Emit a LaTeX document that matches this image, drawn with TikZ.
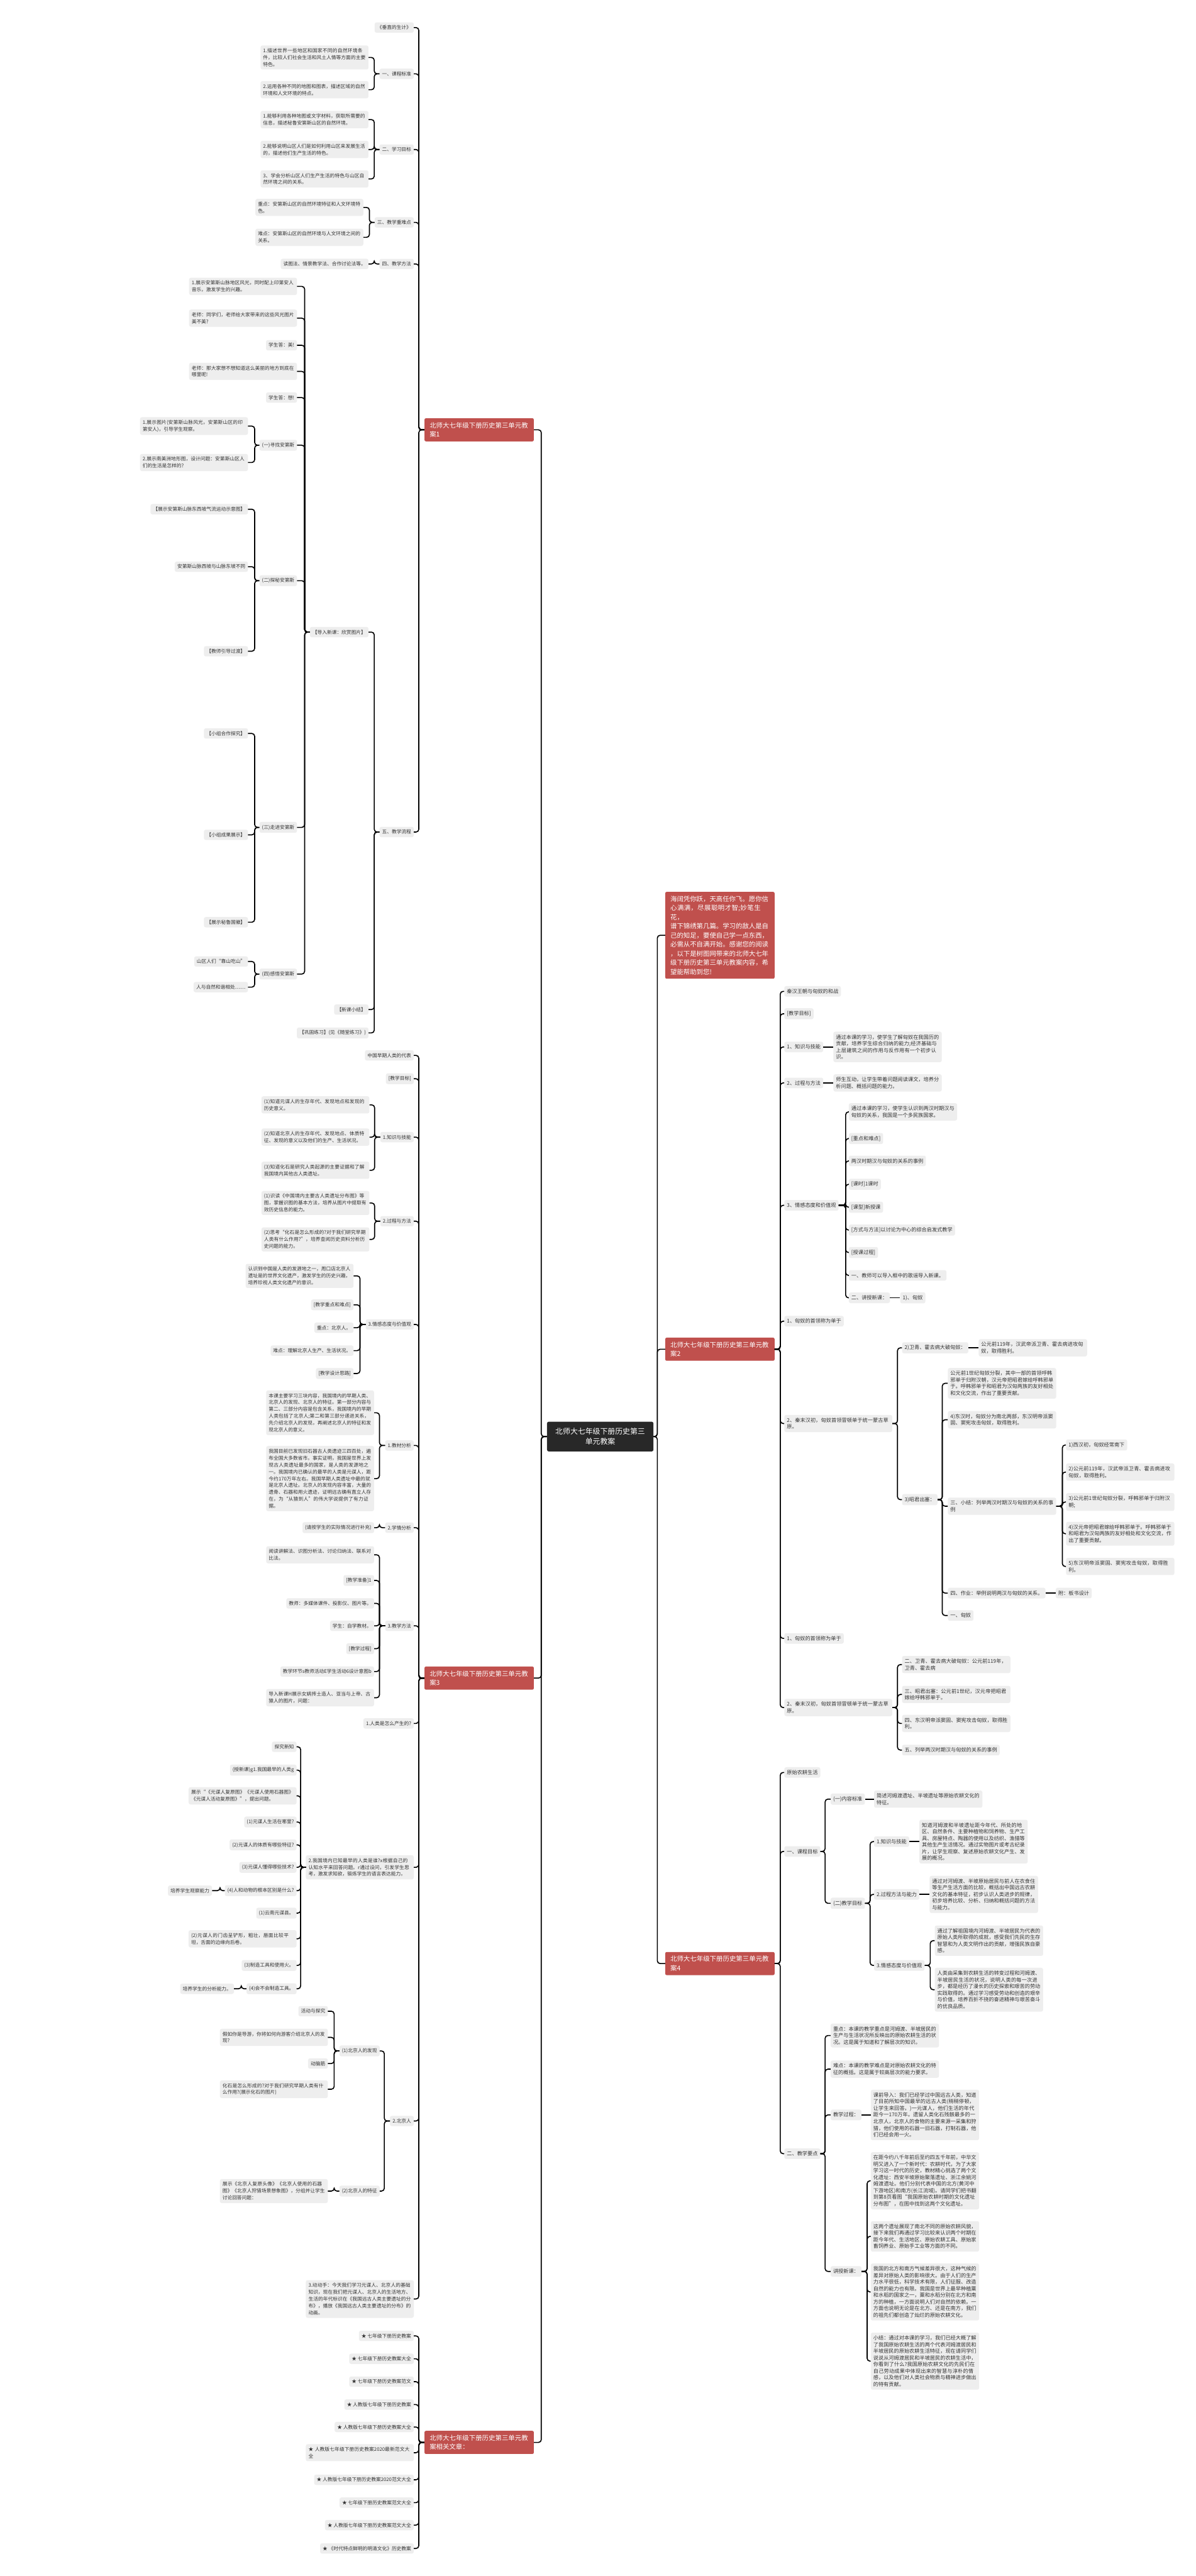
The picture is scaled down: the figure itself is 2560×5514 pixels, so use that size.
\documentclass[tikz,border=0pt]{standalone}
\usepackage{fontspec}
\setmainfont{Noto Sans CJK SC}
\XeTeXlinebreaklocale "zh"
\XeTeXlinebreakskip=0pt plus 1pt
\definecolor{leaf}{RGB}{238,238,238}
\definecolor{txt}{RGB}{51,51,51}
\definecolor{brred}{RGB}{192,80,77}
\definecolor{ctrc}{RGB}{40,40,40}
\tikzset{
 base/.style={fill=leaf,text=txt,rounded corners=4pt,inner xsep=5.5pt,inner ysep=6.2pt},
 L/.style={base,anchor=east,font=\fontsize{10.4pt}{14.7pt}\selectfont},
 R/.style={base,anchor=west,font=\fontsize{11pt}{14.2pt}\selectfont},
 W/.style={text width=#1,align=left},
 W/.default=220pt,
 redbox/.style={fill=brred,text=white,rounded corners=3pt,font=\fontsize{14pt}{19.5pt}\selectfont,inner xsep=11pt,inner ysep=8.5pt,text width=212pt,align=left},
 conn/.style={line width=2.2pt,rounded corners=6pt},
}
\newcommand\lk[3][10]{\draw[conn] (#2.west) -- ++(-#1,0) |- (#3.east);}
\newcommand\rk[3][10]{\draw[conn] (#2.east) -- ++(#1,0) |- (#3.west);}
\begin{document}
\begin{tikzpicture}[x=1pt,y=-1pt]
\fill[white] (0,0) rectangle (2560,5514);
\useasboundingbox (0,0) rectangle (2560,5514);
% centre
\node[fill=ctrc,text=white,rounded corners=4pt,font=\fontsize{16pt}{21pt}\selectfont,align=center,inner xsep=18pt,inner ysep=14pt] (ctr) at (1285,3075) {北师大七年级下册历史第三\\单元教案};
% main branches
\node[redbox,anchor=east] (b1) at (1143,920) {北师大七年级下册历史第三单元教案1};
\node[redbox,anchor=east] (b3) at (1143,3592) {北师大七年级下册历史第三单元教案3};
\node[redbox,anchor=east] (b5) at (1143,5228) {北师大七年级下册历史第三单元教案相关文章：};
\node[redbox,anchor=west] (desc) at (1424,2002) {海阔凭你跃，天高任你飞。愿你信\\心满满，尽展聪明才智;妙笔生花，\\谱下锦绣第几篇。学习的敌人是自\\己的知足，要使自己学一点东西，\\必需从不自满开始。感谢您的阅读\\，以下是树图网带来的北师大七年\\级下册历史第三单元教案内容，希\\望能帮助到您!};
\node[redbox,anchor=west] (b2) at (1424,2888) {北师大七年级下册历史第三单元教案2};
\node[redbox,anchor=west] (b4) at (1424,4203) {北师大七年级下册历史第三单元教案4};
\foreach \c in {b1,b3,b5} \lk[12]{ctr}{\c};
\foreach \c in {desc,b2,b4} \rk[8]{ctr}{\c};

% ===== branch 1 =====
\node[L] (n11) at (886,59) {《垂直的生计》};
\node[L] (n12) at (886,158) {一、课程标准};
\node[L] (n13) at (886,320) {二、学习目标};
\node[L] (n14) at (886,476) {三、教学重难点};
\node[L] (n15) at (886,565) {四、教学方法};
\node[L] (n16) at (886,1781) {五、教学流程};
\foreach \c in {n11,n12,n13,n14,n15,n16} \lk[12]{b1}{\c};
\node[L,W] (n121) at (789,123) {1.描述世界一些地区和国家不同的自然环境条件，比较人们社会生活和风土人情等方面的主要特色。};
\node[L,W] (n122) at (789,192) {2.运用各种不同的地图和图表，描述区域的自然环境和人文环境的特点。};
\foreach \c in {n121,n122} \lk[11]{n12}{\c};
\node[L,W] (n131) at (789,256) {1.能够利用各种地图或文字材料，获取所需要的信息，描述秘鲁安第斯山区的自然环境。};
\node[L,W] (n132) at (789,320) {2.能够说明山区人们是如何利用山区来发展生活的，描述他们生产生活的特色。};
\node[L,W] (n133) at (789,383) {3、学会分析山区人们生产生活的特色与山区自然环境之间的关系。};
\foreach \c in {n131,n132,n133} \lk[11]{n13}{\c};
\node[L,W] (n141) at (778,444) {重点：安第斯山区的自然环境特征和人文环境特色。};
\node[L,W] (n142) at (778,508) {难点：安第斯山区的自然环境与人文环境之间的关系。};
\foreach \c in {n141,n142} \lk[11]{n14}{\c};
\node[L] (n151) at (789,565) {读图法、情景教学法、合作讨论法等。};
\lk[11]{n15}{n151}
\node[L] (n161) at (789,1353) {【导入新课：欣赏图片】};
\node[L] (n162) at (789,2161) {【新课小结】};
\node[L] (n163) at (789,2211) {【巩固练习】(见《随堂练习》)};
\foreach \c in {n161,n162,n163} \lk[11]{n16}{\c};
\node[L,W] (a1) at (636,613) {1.展示安第斯山脉地区风光，同时配上印第安人音乐，激发学生的兴趣。};
\node[L,W] (a2) at (636,681) {老师：同学们，老师给大家带来的这些风光图片美不美?};
\node[L] (a3) at (636,739) {学生答：美!};
\node[L,W] (a4) at (636,795) {老师：那大家想不想知道这么美丽的地方到底在哪里呢!};
\node[L] (a5) at (636,851) {学生答：想!};
\node[L] (a6) at (636,953) {(一)寻找安第斯};
\node[L] (a7) at (636,1243) {(二)探秘安第斯};
\node[L] (a8) at (636,1771) {(三)走进安第斯};
\node[L] (a9) at (636,2085) {(四)感悟安第斯};
\foreach \c in {a1,a2,a3,a4,a5,a6,a7,a8,a9} \lk[11]{n161}{\c};
\node[L,W] (a61) at (531,912) {1.展示图片(安第斯山脉风光，安第斯山区的印第安人)，引导学生观察。};
\node[L,W] (a62) at (531,990) {2.展示南美洲地形图，设计问题：安第斯山区人们的生活是怎样的?};
\foreach \c in {a61,a62} \lk[10]{a6}{\c};
\node[L] (a71) at (531,1090) {【展示安第斯山脉东西坡气流运动示意图】};
\node[L] (a72) at (531,1213) {安第斯山脉西坡与山脉东坡不同};
\node[L] (a73) at (531,1394) {【教师引导过渡】};
\foreach \c in {a71,a72,a73} \lk[10]{a7}{\c};
\node[L] (a81) at (531,1570) {【小组合作探究】};
\node[L] (a82) at (531,1787) {【小组成果展示】};
\node[L] (a83) at (531,1974) {【展示秘鲁国徽】};
\foreach \c in {a81,a82,a83} \lk[10]{a8}{\c};
\node[L] (a91) at (531,2058) {山区人们“靠山吃山”};
\node[L] (a92) at (531,2113) {人与自然和谐相处……};
\foreach \c in {a91,a92} \lk[10]{a9}{\c};

% ===== branch 3 =====
\node[L] (t1) at (886,2259) {中国早期人类的代表};
\node[L] (t2) at (886,2309) {[教学目标]};
\node[L] (t3) at (886,2434) {1.知识与技能};
\node[L] (t4) at (886,2614) {2.过程与方法};
\node[L] (t5) at (886,2835) {3.情感态度与价值观};
\node[L] (t6) at (886,3094) {1.教材分析};
\node[L] (t7) at (886,3270) {2.学情分析};
\node[L] (t8) at (886,3480) {3.教学方法};
\node[L] (t9) at (886,3689) {1.人类是怎么产生的?};
\node[L,W] (t10) at (886,3997) {2.我国境内已知最早的人类是谁?x根据自己的认知水平来回答问题。r通过设问，引发学生思考，激发求知欲，锻炼学生的语言表达能力。};
\node[L] (t11) at (886,4540) {2.北京人};
\node[L,W] (t12) at (886,4921) {3.动动手：今天我们学习元谋人、北京人的基础知识，现在我们把元谋人、北京人的生活地方、生活的年代标识在《我国远古人类主要遗址的分布》，播放《我国远古人类主要遗址的分布》的动画。};
\foreach \c in {t1,t2,t3,t4,t5,t6,t7,t8,t9,t10,t11,t12} \lk[12]{b3}{\c};
\node[L,W] (t31) at (791,2365) {(1)知道元谋人的生存年代、发现地点和发现的历史意义。};
\node[L,W] (t32) at (791,2434) {(2)知道北京人的生存年代、发现地点、体质特征、发现的意义以及他们的生产、生活状况。};
\node[L,W] (t33) at (791,2505) {(3)知道化石是研究人类起源的主要证据和了解我国境内其他古人类遗址。};
\foreach \c in {t31,t32,t33} \lk[12]{t3}{\c};
\node[L,W] (t41) at (791,2575) {(1)识读《中国境内主要古人类遗址分布图》等图，掌握识图的基本方法，培养从图片中提取有效历史信息的能力。};
\node[L,W] (t42) at (791,2653) {(2)思考“化石是怎么形成的?对于我们研究早期人类有什么作用?”，培养查阅历史资料分析历史问题的能力。};
\foreach \c in {t41,t42} \lk[12]{t4}{\c};
\node[L,W] (t51) at (757,2731) {认识到中国是人类的发源地之一，周口店北京人遗址是的世界文化遗产，激发学生的历史兴趣，培养珍视人类文化遗产的意识。};
\node[L] (t52) at (757,2793) {[教学重点和难点]};
\node[L] (t53) at (757,2842) {重点：北京人。};
\node[L] (t54) at (757,2891) {难点：理解北京人生产、生活状况。};
\node[L] (t55) at (757,2940) {[教学设计思路]};
\foreach \c in {t51,t52,t53,t54,t55} \lk[12]{t5}{\c};
\node[L,W] (t61) at (801,3024) {本课主要学习三块内容，我国境内的早期人类、北京人的发现、北京人的特征。第一部分内容与第二、三部分内容是包含关系，我国境内的早期人类包括了北京人;第二和第三部分递进关系，先介绍北京人的发现，再阐述北京人的特征和发现北京人的意义。};
\node[L,W] (t62) at (801,3165) {我国目前已发现旧石器古人类遗迹三四百处，遍布全国大多数省市。事实证明，我国是世界上发现古人类遗址最多的国家，是人类的发源地之一。我国境内已确认的最早的人类是元谋人，距今约170万年左右。我国早期人类遗址中最的就是北京人遗址。北京人的发现内容丰富，大量的遗骨、石器和用火遗迹，证明远古确有直立人存在，为“从猿到人”的伟大学说提供了有力证据。};
\foreach \c in {t61,t62} \lk[12]{t6}{\c};
\node[L] (t71) at (801,3270) {(请按学生的实际情况进行补充)};
\lk[12]{t7}{t71}
\node[L,W] (t81) at (801,3328) {阅读讲解法、识图分析法、讨论归纳法、联系对比法。};
\node[L] (t82) at (801,3383) {[教学准备]1};
\node[L] (t83) at (801,3432) {教师：多媒体课件、投影仪、图片等。};
\node[L] (t84) at (801,3480) {学生：自学教材。};
\node[L] (t85) at (801,3529) {[教学过程]};
\node[L] (t86) at (801,3578) {教学环节s教师活动E学生活动6设计意图b};
\node[L,W] (t87) at (801,3634) {导入新课H展示女娲抟土造人、亚当与上帝、古猿人的图片，问题：};
\foreach \c in {t81,t82,t83,t84,t85,t86,t87} \lk[12]{t8}{\c};
\node[L] (u1) at (635,3739) {探究新知};
\node[L] (u2) at (635,3789) {(授新课)g1.我国最早的人类g};
\node[L,W] (u3) at (635,3844) {展示“《元谋人复原图》《元谋人使用石器图》《元谋人活动复原图》”，提出问题。};
\node[L] (u4) at (635,3900) {(1)元谋人生活在哪里?};
\node[L] (u5) at (635,3949) {(2)元谋人的体质有哪些特征?};
\node[L] (u6) at (635,3997) {(3)元谋人懂得哪些技术?};
\node[L] (u7) at (635,4047) {(4)人和动物的根本区别是什么?};
\node[L] (u8) at (635,4095) {(1)云南元谋县。};
\node[L,W] (u9) at (635,4150) {(2)元谋人的门齿呈铲形，粗壮，唇面比较平坦，舌面的边缘向后卷。};
\node[L] (u10) at (635,4207) {(3)制造工具和使用火。};
\node[L] (u11) at (635,4257) {(4)会不会制造工具。};
\foreach \c in {u1,u2,u3,u4,u5,u6,u7,u8,u9,u10,u11} \lk[11]{t10}{\c};
\node[L] (u7a) at (454,4047) {培养学生观察能力};
\lk[10]{u7}{u7a}
\node[L] (u11a) at (501,4257) {培养学生的分析能力。};
\lk[11]{u11}{u11a}
\node[L] (t111) at (813,4390) {(1)北京人的发现};
\node[L] (t112) at (813,4690) {(2)北京人的特征};
\foreach \c in {t111,t112} \lk[12]{t11}{\c};
\node[L] (v1) at (702,4305) {活动与探究};
\node[L,W] (v2) at (702,4361) {假如你是导游，你将如何向游客介绍北京人的发现?};
\node[L] (v3) at (702,4417) {动脑筋};
\node[L,W] (v4) at (702,4472) {化石是怎么形成的?对于我们研究早期人类有什么作用?(展示化石的图片)};
\foreach \c in {v1,v2,v3,v4} \lk[11]{t111}{\c};
\node[L,W] (v5) at (702,4690) {展示《北京人复原头像》《北京人使用的石器图》《北京人狩猎场景想象图》，分组并让学生讨论回答问题：};
\lk[11]{t112}{v5}

% ===== branch 5 =====
\node[L] (w1) at (886,5000) {★ 七年级下册历史教案};
\node[L] (w2) at (886,5049) {★ 七年级下册历史教案大全};
\node[L] (w3) at (886,5098) {★ 七年级下册历史教案范文};
\node[L] (w4) at (886,5147) {★ 人教版七年级下册历史教案};
\node[L] (w5) at (886,5195) {★ 人教版七年级下册历史教案大全};
\node[L,W] (w6) at (886,5250) {★ 人教版七年级下册历史教案2020最新范文大全};
\node[L] (w7) at (886,5308) {★ 人教版七年级下册历史教案2020范文大全};
\node[L] (w8) at (886,5357) {★ 七年级下册历史教案范文大全};
\node[L] (w9) at (886,5405) {★ 人教版七年级下册历史教案范文大全};
\node[L] (w10) at (886,5455) {★ 《时代特点鲜明的明清文化》历史教案};
\foreach \c in {w1,w2,w3,w4,w5,w6,w7,w8,w9,w10} \lk[12]{b5}{\c};

% ===== branch 2 =====
\node[R] (r1) at (1679,2122) {秦汉王朝与匈奴的和战};
\node[R] (r2) at (1679,2170) {[教学目标]};
\node[R] (r3) at (1679,2241) {1、知识与技能};
\node[R] (r4) at (1679,2318) {2、过程与方法};
\node[R] (r5) at (1679,2580) {3、情感态度和价值观};
\node[R] (r6) at (1679,2828) {1、匈奴的首领称为单于};
\node[R,W] (r7) at (1679,3047) {2、秦末汉初，匈奴首领冒顿单于统一蒙古草原。};
\node[R] (r8) at (1679,3507) {1、匈奴的首领称为单于};
\node[R,W] (r9) at (1679,3655) {2、秦末汉初，匈奴首领冒顿单于统一蒙古草原。};
\foreach \c in {r1,r2,r3,r4,r5,r6,r7,r8,r9} \rk[12]{b2}{\c};
\node[R,W=221pt] (r3a) at (1784,2241) {通过本课的学习，使学生了解匈奴在我国历的贡献，培养学生综合归纳的能力;经济基础与上层建筑之间的作用与反作用有一个初步认识。};
\draw[conn] (r3) -- (r3a);
\node[R,W=221pt] (r4a) at (1784,2318) {师生互动，让学生带着问题阅读课文，培养分析问题、概括问题的能力。};
\draw[conn] (r4) -- (r4a);
\node[R,W=221pt] (r51) at (1817,2380) {通过本课的学习，使学生认识到两汉时期汉与匈奴的关系，我国是一个多民族国家。};
\node[R] (r52) at (1817,2437) {[重点和难点]};
\node[R] (r53) at (1817,2485) {两汉时期汉与匈奴的关系的事例};
\node[R] (r54) at (1817,2535) {[课时]1课时};
\node[R] (r55) at (1817,2584) {[课型]新授课};
\node[R] (r56) at (1817,2633) {[方式与方法]以讨论为中心的综合启发式教学};
\node[R] (r57) at (1817,2681) {[授课过程]};
\node[R] (r58) at (1817,2730) {一、教师可以导入框中的歌谣导入新课。};
\node[R] (r59) at (1817,2778) {二、讲授新课：};
\foreach \c in {r51,r52,r53,r54,r55,r56,r57,r58,r59} \rk[15]{r5}{\c};
\node[R] (r59a) at (1927,2778) {1)、匈奴};
\draw[conn] (r59) -- (r59a);
\node[R] (r71) at (1931,2885) {2)卫青、霍去病大破匈奴：};
\node[R] (r72) at (1931,3210) {3)昭君出塞：};
\foreach \c in {r71,r72} \rk[11]{r7}{\c};
\node[R,W=221pt] (r71a) at (2095,2885) {公元前119年，汉武帝派卫青、霍去病进攻匈奴，取得胜利。};
\draw[conn] (r71) -- (r71a);
\node[R,W=221pt] (r721) at (2029,2961) {公元前1世纪匈奴分裂，其中一部的首领呼韩邪单于归附汉朝，汉元帝把昭君嫁给呼韩邪单于。呼韩邪单于和昭君为汉匈两族的友好相处和文化交流，作出了重要贡献。};
\node[R,W=221pt] (r722) at (2029,3039) {4)东汉时，匈奴分为南北两部，东汉明帝派窦固、窦宪攻击匈奴，取得胜利。};
\node[R,W=221pt] (r723) at (2029,3224) {三、小结：列举两汉时期汉与匈奴的关系的事例};
\node[R] (r724) at (2029,3410) {四、作业：举例说明两汉与匈奴的关系。};
\node[R] (r725) at (2029,3458) {一、匈奴};
\foreach \c in {r721,r722,r723,r724,r725} \rk[10]{r72}{\c};
\node[R] (s1) at (2282,3093) {1)西汉初，匈奴经常南下};
\node[R,W=221pt] (s2) at (2282,3151) {2)公元前119年，汉武帝派卫青、霍去病进攻匈奴，取得胜利。};
\node[R,W=221pt] (s3) at (2282,3215) {3)公元前1世纪匈奴分裂，呼韩邪单于归附汉朝;};
\node[R,W=221pt] (s4) at (2282,3283) {4)汉元帝把昭君嫁给呼韩邪单于。呼韩邪单于和昭君为汉匈两族的友好相处和文化交流，作出了重要贡献。};
\node[R,W=221pt] (s5) at (2282,3353) {5)东汉明帝派窦固、窦宪攻击匈奴，取得胜利。};
\foreach \c in {s1,s2,s3,s4,s5} \rk[13]{r723}{\c};
\node[R] (r724a) at (2260,3410) {附：板书设计};
\draw[conn] (r724) -- (r724a);
\node[R,W=221pt] (r91) at (1931,3563) {二、卫青、霍去病大破匈奴：公元前119年，卫青、霍去病};
\node[R,W=221pt] (r92) at (1931,3627) {三、昭君出塞：公元前1世纪，汉元帝把昭君嫁给呼韩邪单于。};
\node[R,W=221pt] (r93) at (1931,3689) {四、东汉明帝派窦固、窦宪攻击匈奴，取得胜利。};
\node[R] (r94) at (1931,3746) {五、列举两汉时期汉与匈奴的关系的事例};
\foreach \c in {r91,r92,r93,r94} \rk[11]{r9}{\c};

% ===== branch 4 =====
\node[R] (q1) at (1679,3794) {原始农耕生活};
\node[R] (q2) at (1679,3963) {一、课程目标};
\node[R] (q3) at (1679,4610) {二、教学要点};
\foreach \c in {q1,q2,q3} \rk[12]{b4}{\c};
\node[R] (q21) at (1778,3851) {(一)内容标准};
\node[R] (q22) at (1778,4074) {(二)教学目标};
\foreach \c in {q21,q22} \rk[10]{q2}{\c};
\node[R,W=221pt] (q21a) at (1871,3851) {简述河姆渡遗址、半坡遗址等原始农耕文化的特征。};
\draw[conn] (q21) -- (q21a);
\node[R] (q221) at (1871,3942) {1.知识与技能};
\node[R] (q222) at (1871,4055) {2.过程方法与能力};
\node[R] (q223) at (1871,4207) {3.情感态度与价值观};
\foreach \c in {q221,q222,q223} \rk[11]{q22}{\c};
\node[R,W=221pt] (q221a) at (1968,3942) {知道河姆渡和半坡遗址距今年代、所处的地区、自然条件、主要种植物和饲养物、生产工具、房屋特点、陶器的使用以及纺织、渔猎等其他生产生活情况。通过实物图片或考古纪录片，让学生观察、复述原始农耕文化产生、发展的概况。};
\draw[conn] (q221) -- (q221a);
\node[R,W=221pt] (q222a) at (1990,4055) {通过对河姆渡、半坡原始居民与前人在衣食住等生产生活方面的比较，概括出中国远古农耕文化的基本特征，初步认识人类进步的规律，初步培养比较、分析、归纳和概括问题的方法与能力。};
\draw[conn] (q222) -- (q222a);
\node[R,W=221pt] (q2231) at (2001,4154) {通过了解祖国境内河姆渡、半坡居民为代表的原始人类所取得的成就，感受我们先民的生存智慧和为人类文明作出的贡献，增强民族自豪感。};
\node[R,W=221pt] (q2232) at (2001,4259) {人类由采集到农耕生活的转变过程和河姆渡、半坡居民生活的状况，说明人类的每一次进步，都是经历了漫长的历史探索和艰苦的劳动实践取得的。通过学习感受劳动和创造的艰辛与价值，培养百折不挠的奋进精神与艰苦奋斗的优良品质。};
\foreach \c in {q2231,q2232} \rk[12]{q223}{\c};
\node[R,W=221pt] (q31) at (1778,4357) {重点：本课的教学重点是河姆渡、半坡居民的生产与生活状况所反映出的原始农耕生活的状况。这是属于知道和了解层次的知识。};
\node[R,W=221pt] (q32) at (1778,4429) {难点：本课的教学难点是对原始农耕文化的特征的概括。这是属于较高层次的能力要求。};
\node[R] (q33) at (1778,4527) {教学过程：};
\node[R] (q34) at (1778,4862) {讲授新课：};
\foreach \c in {q31,q32,q33,q34} \rk[10]{q3}{\c};
\node[R,W=221pt] (q33a) at (1864,4527) {课前导入：我们已经学过中国远古人类，知道了目前所知中国最早的远古人类(稍稍停顿，让学生来回答。)一元谋人，他们生活的年代距今一170万年。遗留人类化石残骸最多的一北京人，北京人的食物的主要来源一采集和狩猎，他们使用的石器一旧石器，打制石器，他们已经会用一火。};
\draw[conn] (q33) -- (q33a);
\node[R,W=221pt] (q341) at (1864,4668) {在距今约八千年前后至约四五千年前，中华文明又进入了一个新时代：农耕时代，为了大家学习这一时代的历史，教材精心挑选了两个文化遗址：西安半坡原始聚落遗址、浙江余姚河姆渡遗址。他们分别代表中国的北方(黄河中下游地区)和南方(长江流域)。请同学们把书翻到第8页看图“我国原始农耕时期的文化遗址分布图”，在图中找到这两个文化遗址。};
\node[R,W=221pt] (q342) at (1864,4787) {这两个遗址展现了南北不同的原始农耕风貌，接下来我们再通过学习比较来认识两个时期在距今年代、生活地区、原始农耕工具、原始家畜饲养业、原始手工业等方面的不同。};
\node[R,W=221pt] (q343) at (1864,4906) {我国的北方和南方气候差异很大，这种气候的差异对原始人类的影响很大。由于人们的生产力水平很低，科学技术有限，人们征服、改造自然的能力也有限。我国是世界上最早种植粟和水稻的国家之一，粟和水稻分别在北方和南方的种植，一方面说明人们对自然的依赖。一方面也说明无论是在北方、还是在南方，我们的祖先们都创造了灿烂的原始农耕文化。};
\node[R,W=221pt] (q344) at (1864,5054) {小结：通过对本课的学习，我们已经大概了解了我国原始农耕生活的两个代表河姆渡居民和半坡居民的原始农耕生活特征，现在请同学们说说从河姆渡居民和半坡居民的农耕生活中，你看到了什么?我国原始农耕文化的先民们在自己劳动成果中体现出来的智慧与淳朴的情感，以及他们对人类社会物质与精神进步做出的特有贡献。};
\foreach \c in {q341,q342,q343,q344} \rk[12]{q34}{\c};
\end{tikzpicture}
\end{document}
